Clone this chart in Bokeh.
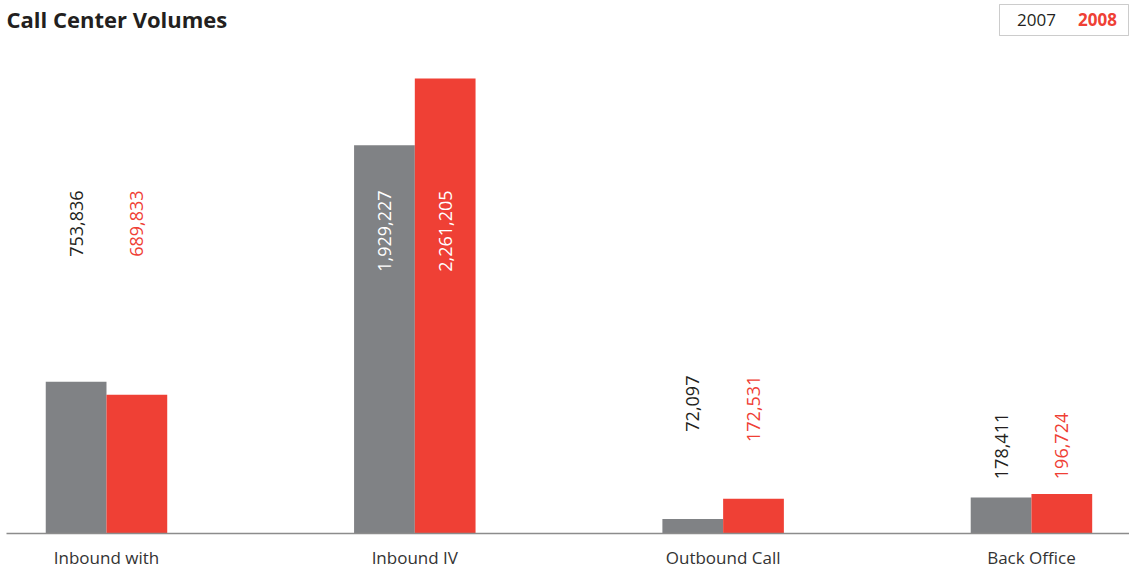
import numpy as np
from bokeh.plotting import figure
from bokeh.models import ColumnDataSource, Label, BoxAnnotation, FixedTicker, Range1d
from bokeh.core.properties import value
from bokeh.embed import file_html
from bokeh.resources import INLINE

# ---- data ----
categories = ["Inbound with", "Inbound IV", "Outbound Call", "Back Office"]
years = ["2007", "2008"]
vol_2007 = [753836, 1929227, 72097, 178411]
vol_2008 = [689833, 2261205, 172531, 196724]

# ---- styling / layout ----
GRAY = "#808285"
RED = "#EF4035"
DARK = "#231F20"
FONT = "Open Sans"
BAR_W = 0.197
label_anchor = [1705000, 1705000, 785000, 600000]   # top end of rotated value labels
label_inside = [False, True, False, False]

W, H = 1129, 571
BOTTOM, LEFT = 38, 6
FRAME_H = H - BOTTOM   # frame spans from canvas top to the baseline

p = figure(width=W, height=H, output_backend="svg", toolbar_location=None,
           x_range=Range1d(-0.3243, 3.318), y_range=Range1d(0, 2649000),
           min_border_left=LEFT, min_border_right=0, min_border_top=0,
           min_border_bottom=BOTTOM)
p.outline_line_color = None
p.xgrid.visible = False
p.ygrid.visible = False
p.yaxis.visible = False
p.background_fill_color = "white"
p.border_fill_color = "white"

idx = np.arange(len(categories))
src = ColumnDataSource(dict(
    x07=idx - BAR_W / 2, x08=idx + BAR_W / 2,
    v07=vol_2007, v08=vol_2008,
))
p.vbar(x="x07", top="v07", width=BAR_W, source=src, fill_color=GRAY, line_color=None)
p.vbar(x="x08", top="v08", width=BAR_W, source=src, fill_color=RED, line_color=None)

# value labels
lx, ly, lt, lc = [], [], [], []
for i in idx:
    for off, vals, col in ((-BAR_W / 2, vol_2007, DARK), (BAR_W / 2, vol_2008, RED)):
        lx.append(i + off)
        ly.append(label_anchor[i])
        lt.append(f"{vals[i]:,}")
        lc.append("white" if label_inside[i] else col)
lsrc = ColumnDataSource(dict(x=lx, y=ly, t=lt, c=lc))
p.text(x="x", y="y", text="t", source=lsrc, angle=np.pi / 2,
       text_align="right", text_baseline="middle", text_color="c",
       text_font=value(FONT), text_font_size="18px")

# x axis
ax = p.xaxis[0]
ax.ticker = FixedTicker(ticks=list(idx))
ax.major_label_overrides = {int(i): c for i, c in zip(idx, categories)}
ax.major_tick_line_color = None
ax.minor_tick_line_color = None
ax.major_tick_out = 0
ax.major_tick_in = 0
ax.minor_tick_out = 0
ax.minor_tick_in = 0
ax.axis_line_color = "#8C8C8C"
ax.axis_line_width = 1.5
ax.major_label_text_font = FONT
ax.major_label_text_font_size = "17px"
ax.major_label_text_color = "#333333"
ax.major_label_standoff = 12

# title (canvas y measured from top -> screen y from frame bottom)
def sy(canvas_y):
    return FRAME_H - canvas_y

p.add_layout(Label(x=0, y=sy(18), x_units="screen", y_units="screen",
                   text="Call Center Volumes", text_font=FONT, text_font_style="bold",
                   text_font_size="22px", text_color=DARK, text_baseline="middle"))

# legend box
p.add_layout(BoxAnnotation(left=993, right=1122, bottom=sy(35), top=sy(4),
                           left_units="screen", right_units="screen",
                           top_units="screen", bottom_units="screen",
                           fill_color=None, fill_alpha=0, line_color="#555555", line_width=1))
p.add_layout(Label(x=1030, y=sy(19), x_units="screen", y_units="screen",
                   text=years[0], text_font=FONT, text_font_size="17px",
                   text_color=DARK, text_align="center", text_baseline="middle"))
p.add_layout(Label(x=1091, y=sy(19), x_units="screen", y_units="screen",
                   text=years[1], text_font=FONT, text_font_size="17px", text_font_style="bold",
                   text_color=RED, text_align="center", text_baseline="middle"))

open("out.html", "w").write(file_html(p, INLINE))
